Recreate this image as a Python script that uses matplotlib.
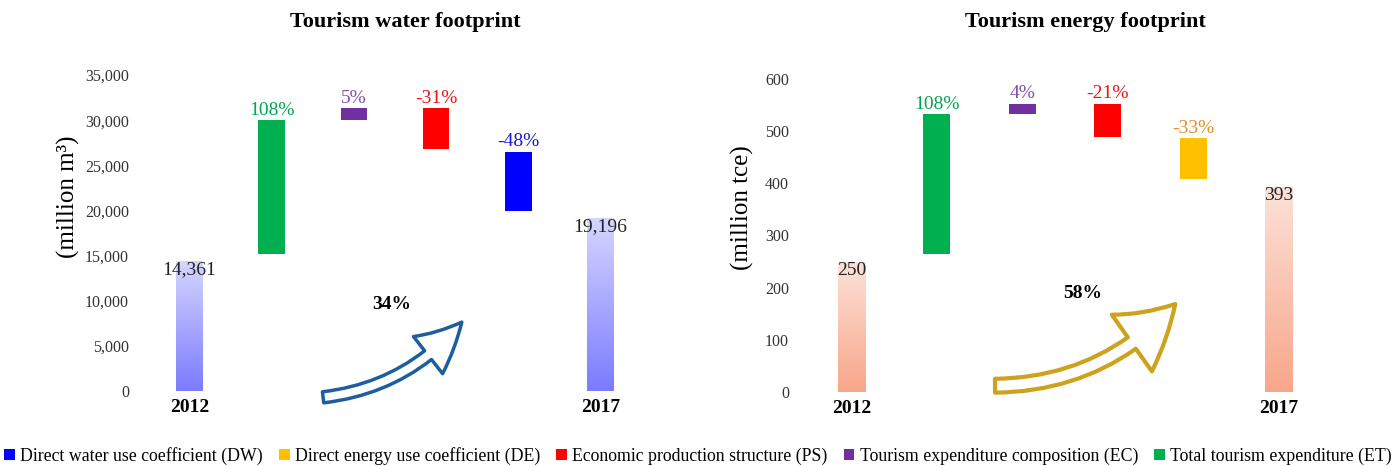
import matplotlib
matplotlib.use("Agg")
import matplotlib.pyplot as plt
import numpy as np
from matplotlib.patches import Patch, FancyArrowPatch
from matplotlib.colors import LinearSegmentedColormap

plt.rcParams["font.family"] = ["Liberation Serif", "DejaVu Serif"]

# data ------------------------------------------------------------------
steps = ["2012", "ET", "EC", "PS", "D", "2017"]
xlabels = ["2012", "", "", "", "", "2017"]

water_low = [0, 15200, 30000, 26800, 19900, 0]
water_high = [14361, 30000, 31300, 31300, 26500, 19196]
water_pct = ["", "108%", "5%", "-31%", "-48%", ""]
water_total = ["14,361", "19,196"]
water_change = "34%"

energy_low = [0, 264, 532, 488, 408, 0]
energy_high = [250, 532, 553, 553, 487, 393]
energy_pct = ["", "108%", "4%", "-21%", "-33%", ""]
energy_total = ["250", "393"]
energy_change = "58%"

legend_labels = ["Direct water use coefficient (DW)",
                 "Direct energy use coefficient (DE)",
                 "Economic production structure (PS)",
                 "Tourism expenditure composition (EC)",
                 "Total tourism expenditure (ET)"]
legend_colors = ["#0000FF", "#FFC000", "#FF0000", "#7030A0", "#00B050"]


def draw_panel(ax, low, high, pct, totals, change, mid_color, mid_text,
               grad, ylim, yticks, ytickfmt, ylabel, title, title_x,
               label_xy, change_xy, arrow_a, arrow_b, arrow_color,
               arrow_style, arrow_rad, arrow_lw):
    x = np.arange(len(steps))
    heights = [h - l for l, h in zip(low, high)]
    colors = ["none", "#00B050", "#7030A0", "#FF0000", mid_color, "none"]
    bars = ax.bar(x, heights, bottom=low, width=0.32, color=colors,
                  edgecolor="none")

    # gradient fill for totals
    cmap = LinearSegmentedColormap.from_list("g", grad)
    img = np.linspace(0, 1, 256).reshape(-1, 1)
    for i in (0, len(steps) - 1):
        b = bars[i]
        im = ax.imshow(img, cmap=cmap, aspect="auto", origin="lower",
                       extent=[b.get_x(), b.get_x() + b.get_width(),
                               b.get_y(), b.get_y() + b.get_height()],
                       zorder=2)
        im.set_clip_path(b)

    # labels
    text_colors = [None, "#00A650", "#7E4FB0", "#E81515", mid_text, None]
    for i, b in enumerate(bars):
        if pct[i]:
            ax.annotate(pct[i], (b.get_x() + b.get_width() / 2, high[i]),
                        xytext=(0, 1), textcoords="offset points",
                        ha="center", va="bottom", fontsize=14,
                        color=text_colors[i])
    for i, t in zip((0, len(steps) - 1), totals):
        b = bars[i]
        ax.annotate(t, (b.get_x() + b.get_width() / 2, high[i]),
                    xytext=(0, 0), textcoords="offset points",
                    ha="center", va="top", fontsize=14, color="#222222",
                    zorder=5)

    ax.set_xlim(-0.6, len(steps) - 0.4)
    ax.set_ylim(*ylim)
    ax.set_yticks(yticks)
    ax.set_yticklabels([ytickfmt(v) for v in yticks], fontsize=11.5,
                       color="#333333")
    ax.set_xticks(x)
    ax.set_xticklabels(xlabels, fontsize=14, fontweight="bold")
    ax.tick_params(length=0, axis="y", pad=8)
    ax.tick_params(length=0, axis="x", pad=6)
    for s in ax.spines.values():
        s.set_visible(False)

    ax.set_ylabel(ylabel, fontsize=18)
    ax.yaxis.set_label_coords(*label_xy)
    fig.text(title_x, 1 - 22 / 466, title, ha="center", va="center",
             fontsize=16, fontweight="bold")
    ax.text(*change_xy, change, transform=ax.transAxes, ha="center",
            va="center", fontsize=14, fontweight="bold")

    arrow = FancyArrowPatch(arrow_a, arrow_b, transform=ax.transAxes,
                            arrowstyle=arrow_style,
                            connectionstyle=f"arc3,rad={arrow_rad}",
                            mutation_scale=10, facecolor="white",
                            edgecolor=arrow_color, linewidth=arrow_lw,
                            shrinkA=0, shrinkB=0, clip_on=False, zorder=4)
    ax.add_patch(arrow)


fig = plt.figure(figsize=(13.96, 4.66), dpi=100)
ax1 = fig.add_axes([140 / 1396, 1 - 391 / 466, 510 / 1396, 316 / 466])
ax2 = fig.add_axes([800 / 1396, 1 - 392 / 466, 530 / 1396, 313 / 466])

draw_panel(ax1, water_low, water_high, water_pct, water_total, water_change,
           "#0000FF", "#1A1ACC", ["#7B7BFF", "#D6D6FF"],
           (0, 35000), list(range(0, 35001, 5000)),
           lambda v: f"{v:,}", "(million m³)", "Tourism water footprint",
           405 / 1396, (-0.118, 0.614), (0.494, 0.275),
           (0.359, -0.02), (0.631, 0.218), "#1F5E9E",
           "simple,head_length=3.4,head_width=3.4,tail_width=0.8", 0.2, 2.5)

draw_panel(ax2, energy_low, energy_high, energy_pct, energy_total,
           energy_change, "#FFC000", "#E0902A", ["#F8A68A", "#FCE2D9"],
           (0, 600), list(range(0, 601, 100)),
           lambda v: f"{v}", "(million tce)", "Tourism energy footprint",
           1085 / 1396, (-0.087, 0.59), (0.534, 0.316),
           (0.368, 0.02), (0.708, 0.281), "#CDA21C",
           "simple,head_length=4.2,head_width=5.0,tail_width=1.0", 0.22, 3)

handles = [Patch(facecolor=c, edgecolor="none") for c in legend_colors]
fig.legend(handles, legend_labels, loc="center", ncol=5,
           bbox_to_anchor=(0.5, 1 - 456 / 466), frameon=False,
           fontsize=12.8, handlelength=0.6, handleheight=0.6,
           handletextpad=0.3, columnspacing=0.9, borderaxespad=0)

fig.savefig("out.png", dpi=100)
plt.close(fig)
